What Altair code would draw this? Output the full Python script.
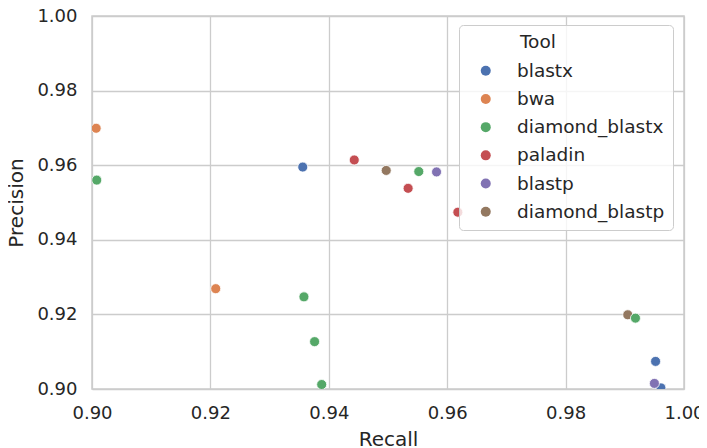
import altair as alt
import pandas as pd

tool_order = ["blastx", "bwa", "diamond_blastx", "paladin", "blastp", "diamond_blastp"]
palette = ["#4C72B0", "#DD8452", "#55A868", "#C44E52", "#8172B3", "#937860"]

tools = [
    "blastx", "blastx", "blastx",
    "bwa", "bwa",
    "paladin", "paladin", "paladin",
    "blastp", "blastp",
    "diamond_blastp", "diamond_blastp",
    "diamond_blastx", "diamond_blastx", "diamond_blastx",
    "diamond_blastx", "diamond_blastx", "diamond_blastx",
]
recall = [
    0.9356, 0.9952, 0.9961,
    0.9007, 0.9209,
    0.9443, 0.9534, 0.9618,
    0.9582, 0.9950,
    0.9497, 0.9905,
    0.9008, 0.9358, 0.9376,
    0.9388, 0.9552, 0.9918,
]
precision = [
    0.9595, 0.9074, 0.9003,
    0.9699, 0.9269,
    0.9614, 0.9538, 0.9474,
    0.9582, 0.9015,
    0.9586, 0.9199,
    0.9560, 0.9247, 0.9127,
    0.9012, 0.9583, 0.9190,
]

df = pd.DataFrame({"Tool": tools, "Recall": recall, "Precision": precision})

text_color = "#262626"
grid_color = "#cccccc"

chart = alt.Chart(df).mark_point(
    filled=True, size=100, opacity=1, stroke="white", strokeWidth=0.8, clip=True
).encode(
    x=alt.X("Recall:Q", scale=alt.Scale(domain=[0.9, 1.0], nice=False, zero=False),
            axis=alt.Axis(values=[0.90, 0.92, 0.94, 0.96, 0.98, 1.00], format=".2f",
                          title="Recall")),
    y=alt.Y("Precision:Q", scale=alt.Scale(domain=[0.9, 1.0], nice=False, zero=False),
            axis=alt.Axis(values=[0.90, 0.92, 0.94, 0.96, 0.98, 1.00], format=".2f",
                          title="Precision")),
    color=alt.Color("Tool:N", scale=alt.Scale(domain=tool_order, range=palette),
                    legend=alt.Legend(
                        title="\u200b" + "\u00a0" * 9 + "Tool",
                        orient="none", legendX=367, legendY=9,
                        padding=8, symbolOffset=9.5, labelOffset=22,
                        symbolType="circle", symbolSize=100, symbolStrokeWidth=0,
                        rowPadding=9.2, titlePadding=10,
                        fillColor="rgba(255,255,255,0.8)", strokeColor=grid_color,
                        cornerRadius=4, titleAnchor="start",
                        labelFontSize=18.5, titleFontSize=18.5, titleFontWeight="normal",
                        labelColor=text_color, titleColor=text_color,
                        labelFont="DejaVu Sans", titleFont="DejaVu Sans",
                    )),
).properties(
    width=592, height=373,
    autosize=alt.AutoSizeParams(type="none"),
    padding={"left": 84, "top": 8, "right": 15, "bottom": 58},
).configure_view(
    stroke=grid_color, strokeWidth=1.5
).configure_axis(
    grid=True, gridColor=grid_color, gridWidth=1.3,
    domain=False, ticks=False, labelFlush=False,
    labelFont="DejaVu Sans", titleFont="DejaVu Sans",
    labelFontSize=18, titleFontSize=20, titleFontWeight="normal",
    labelColor=text_color, titleColor=text_color,
).configure_axisX(
    labelPadding=15, titlePadding=7,
).configure_axisY(
    labelPadding=15, titlePadding=10,
)

chart.save("out.html", embed_options={"renderer": "svg", "actions": False})
